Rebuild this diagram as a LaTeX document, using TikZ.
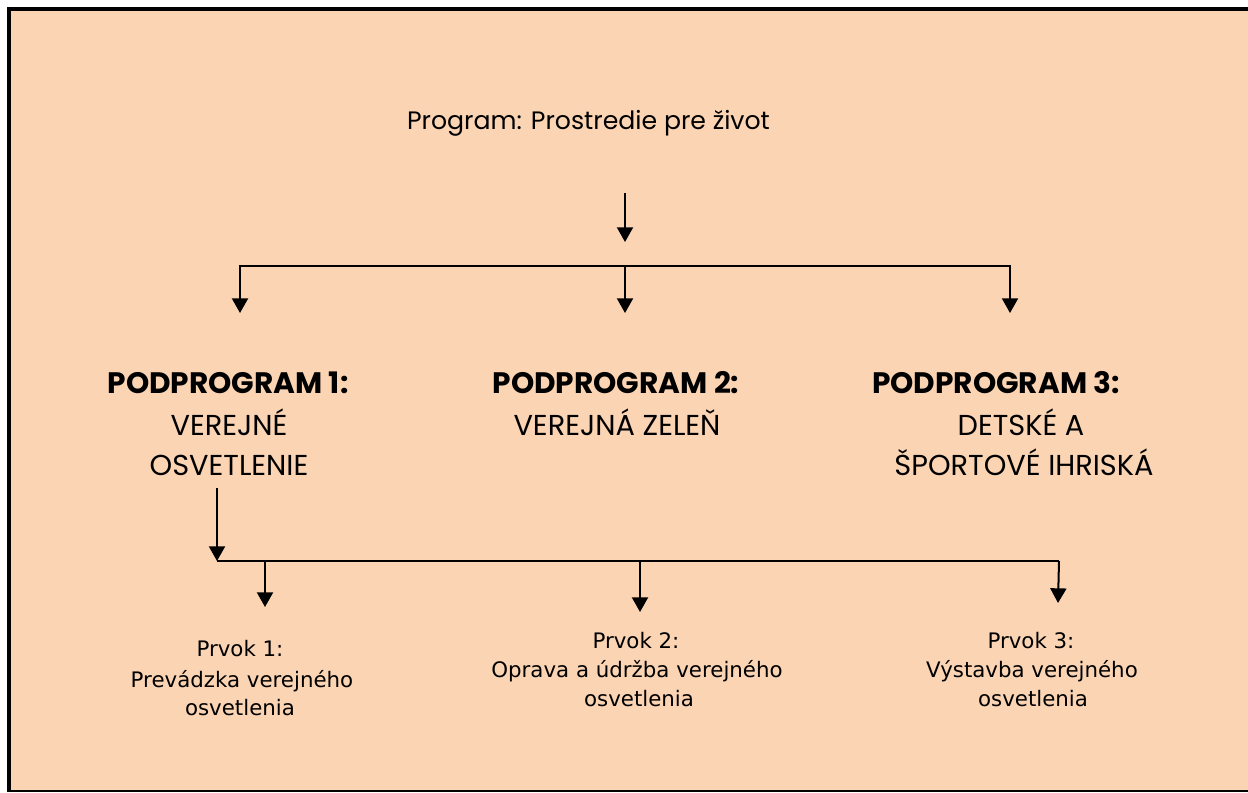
\documentclass[tikz,border=0pt]{standalone}
\usepackage{fontspec}
\setmainfont{Poppins}
\newfontfamily\verd{DejaVu Sans}
\usetikzlibrary{arrows.meta}
\definecolor{peach}{HTML}{FBD4B4}
\begin{document}
\begin{tikzpicture}[x=0.75pt,y=-0.75pt,
 arr/.style={line width=1.5pt,-{Triangle[width=12pt,length=11pt]}},
 ln/.style={line width=1.5pt},
 ttl/.style={anchor=base,inner sep=0pt,font=\fontsize{18.9}{22}\selectfont},
 hd/.style={anchor=base,inner sep=0pt,font=\fontsize{22.2}{26}\selectfont\bfseries},
 bd/.style={anchor=base,inner sep=0pt,font=\fontsize{21.6}{25}\selectfont},
 pv/.style={anchor=base,inner sep=0pt,font=\verd\fontsize{16}{19}\selectfont}]
\useasboundingbox (0,0) rectangle (1248,792);
\fill[white] (0,0) rectangle (1248,792);
\fill[peach] (11,11) rectangle (1248,790);
\fill[black] (7,7) rectangle (11,792);
\fill[black] (7,7) rectangle (1248,11);
\fill[black] (7,790) rectangle (1248,792);

% title
\node[ttl] (title) at (588.5,129) {Program: Prostredie pre život};

% level 1 connectors
\coordinate (t0) at (625,193);
\coordinate (t1) at (625,242);
\coordinate (bl) at (240,265.5);
\coordinate (bm) at (625,265.5);
\coordinate (br) at (1010,265.5);
\coordinate (a1) at (240,313);
\coordinate (a2) at (625,313);
\coordinate (a3) at (1010,313);
\draw[arr] (t0) -- (t1);
\draw[arr] (bm) -- (bl) -- (a1);
\draw[arr] (bm) -- (br) -- (a3);
\draw[arr] (bm) -- (a2);

% subprograms
\node[hd] (p1h) at (228,393) {PODPROGRAM 1:};
\node[bd] (p1a) at (229,435) {VEREJNÉ};
\node[bd] (p1b) at (229,475) {OSVETLENIE};
\node[hd] (p2h) at (616,393) {PODPROGRAM 2:};
\node[bd] (p2a) at (617,435) {VEREJNÁ ZELEŇ};
\node[hd] (p3h) at (996,393) {PODPROGRAM 3:};
\node[bd] (p3a) at (1021,435) {DETSKÉ A};
\node[bd] (p3b) at (1024,475) {ŠPORTOVÉ IHRISKÁ};

% level 2 connectors
\coordinate (s0) at (217,488);
\coordinate (s1) at (217,561);
\coordinate (sr) at (1059,561);
\coordinate (c1) at (265,561);
\coordinate (c2) at (640,561);
\coordinate (e1) at (265,607);
\coordinate (e2) at (640,612);
\coordinate (e3) at (1058,603);
\draw[arr] (s0) -- (s1);
\draw[ln] (s1) -- (sr);
\draw[arr] (sr) -- (e3);
\draw[arr] (c1) -- (e1);
\draw[arr] (c2) -- (e2);

% elements
\node[pv] (r1a) at (240,656) {Prvok 1:};
\node[pv] (r1b) at (242,687) {Prevádzka verejného};
\node[pv] (r1c) at (240,715) {osvetlenia};
\node[pv] (r2a) at (636,648) {Prvok 2:};
\node[pv] (r2b) at (637,677) {Oprava a údržba verejného};
\node[pv] (r2c) at (639,706) {osvetlenia};
\node[pv] (r3a) at (1031,648) {Prvok 3:};
\node[pv] (r3b) at (1032,677) {Výstavba verejného};
\node[pv] (r3c) at (1033,706) {osvetlenia};
\end{tikzpicture}
\end{document}
